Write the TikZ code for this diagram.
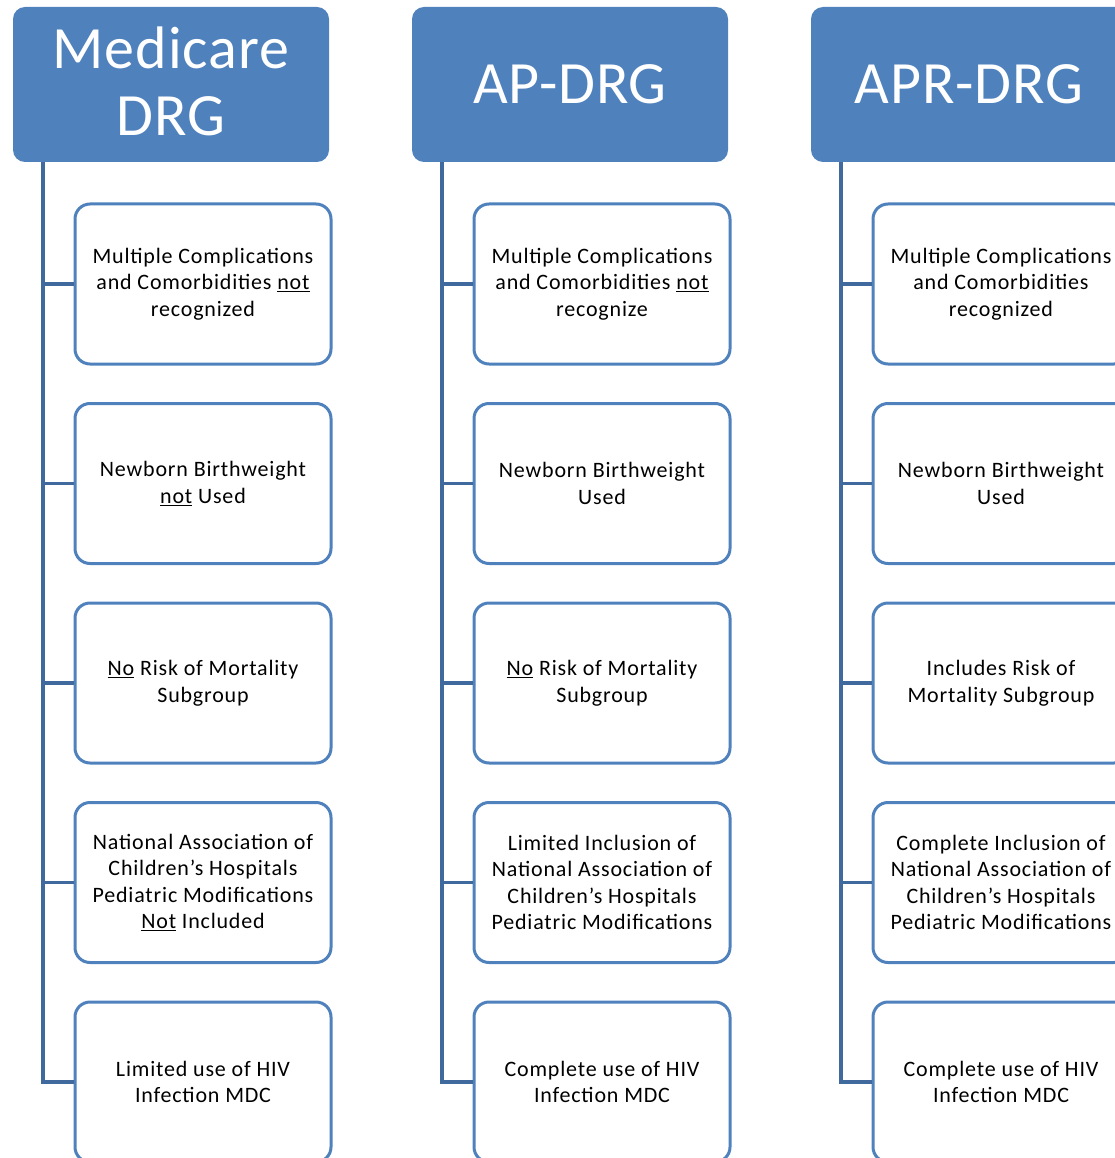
\documentclass[tikz,border=0pt]{standalone}
\usepackage{fontspec}
\setmainfont{Carlito}
\newfontfamily\itemfont[LetterSpace=3.7]{Carlito}
\newfontfamily\headfont[LetterSpace=1.5]{Carlito}
\definecolor{drgblue}{RGB}{79,129,189}
\definecolor{drgline}{RGB}{64,106,158}
\tikzset{
    header/.style={fill=drgblue, rounded corners=12pt, minimum width=316pt,
        minimum height=155pt, text=white, align=center,
        font=\headfont\fontsize{60}{67}\selectfont},
    item/.style={draw=drgblue, line width=3pt, fill=white, rounded corners=15pt,
        minimum width=256pt, minimum height=160pt, align=center,
        font=\itemfont\fontsize{22}{26.5}\selectfont},
    link/.style={draw=drgline, line width=3.5pt},
}
\begin{document}
\begin{tikzpicture}[x=1pt, y=-1pt]
    \useasboundingbox (0,0) rectangle (1115,1158);
    \clip (0,0) rectangle (1115,1158);

    % Medicare DRG
    \node[header, text depth=6pt] (medhd) at (171,84.5) {Medicare\\DRG};
    \node[item] (med1) at (203,284) {Multiple Complications\\and Comorbidities \underline{not}\\recognized};
    \node[item] (med2) at (203,483.5) {Newborn Birthweight\\\underline{not} Used};
    \node[item] (med3) at (203,683) {\underline{No} Risk of Mortality\\Subgroup};
    \node[item] (med4) at (203,882.5) {National Association of\\Children’s Hospitals\\Pediatric Modifications\\\underline{Not} Included};
    \node[item] (med5) at (203,1082) {Limited use of HIV\\Infection MDC};

    % AP-DRG
    \node[header] (aphd) at (570,84.5) {AP-DRG};
    \node[item] (ap1) at (602,284) {Multiple Complications\\and Comorbidities \underline{not}\\recognize};
    \node[item] (ap2) at (602,483.5) {Newborn Birthweight\\Used};
    \node[item] (ap3) at (602,683) {\underline{No} Risk of Mortality\\Subgroup};
    \node[item] (ap4) at (602,882.5) {Limited Inclusion of\\National Association of\\Children’s Hospitals\\Pediatric Modifications};
    \node[item] (ap5) at (602,1082) {Complete use of HIV\\Infection MDC};

    % APR-DRG
    \node[header] (aprhd) at (969,84.5) {APR-DRG};
    \node[item] (apr1) at (1001,284) {Multiple Complications\\and Comorbidities\\recognized};
    \node[item] (apr2) at (1001,483.5) {Newborn Birthweight\\Used};
    \node[item] (apr3) at (1001,683) {Includes Risk of\\Mortality Subgroup};
    \node[item] (apr4) at (1001,882.5) {Complete Inclusion of\\National Association of\\Children’s Hospitals\\Pediatric Modifications};
    \node[item] (apr5) at (1001,1082) {Complete use of HIV\\Infection MDC};

    % elbow links from each header down to its items
    \foreach \col in {med,ap,apr}{
        \foreach \i in {1,...,5}{
            \draw[link] ([xshift=30pt]\col hd.south west) |- (\col\i.west);
        }
    }
\end{tikzpicture}
\end{document}
